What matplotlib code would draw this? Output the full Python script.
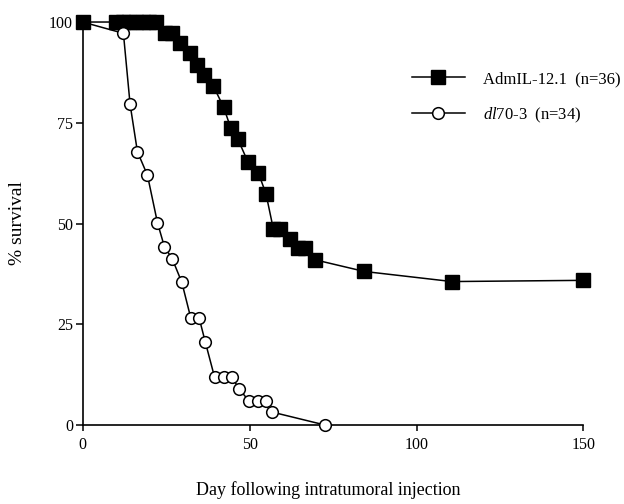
import matplotlib
matplotlib.use("Agg")
import matplotlib.pyplot as plt
from matplotlib.lines import Line2D

plt.rcParams['font.family'] = ['Liberation Serif', 'DejaVu Serif']
plt.rcParams['mathtext.fontset'] = 'custom'
plt.rcParams['mathtext.rm'] = 'Liberation Serif'
plt.rcParams['mathtext.it'] = 'Liberation Serif:italic'

adm_days = [0, 10, 12, 14, 16, 18, 20, 22, 24.7, 26.7, 29.2, 32.2, 34.2, 36.4, 39.1,
            42.2, 44.4, 46.5, 49.5, 52.6, 54.9, 57.1, 59.1, 62.1, 64.6, 66.6, 69.6,
            84.4, 110.6, 150]
adm_surv = [100, 100, 100, 100, 100, 100, 100, 100, 97.2, 97.2, 94.9, 92.2, 89.4, 86.8, 84.2,
            78.9, 73.6, 70.9, 65.3, 62.6, 57.4, 48.7, 48.7, 46.2, 44.0, 44.0, 41.0,
            38.1, 35.6, 35.9]

dl_days = [0, 12.2, 14.2, 16.4, 19.4, 22.4, 24.5, 26.8, 29.7, 32.4, 34.9, 36.7, 39.5,
           42.4, 44.7, 46.9, 49.8, 52.6, 54.9, 56.8, 72.6]
dl_surv = [100, 97.2, 79.6, 67.8, 62.0, 50.2, 44.2, 41.3, 35.4, 26.5, 26.5, 20.7, 11.9,
           11.9, 11.9, 8.9, 6.0, 6.0, 6.0, 3.2, 0]

xticks = [0, 50, 100, 150]
yticks = [0, 25, 50, 75, 100]
adm_label = "AdmIL-12.1  (n=36)"
dl_label = r"$\it{dl}$70-3  (n=34)"

fig = plt.figure(figsize=(6.24, 5.04), dpi=100)
ax = fig.add_axes([0.1325, 0.1567, 0.8025, 0.7996])

ax.plot(adm_days, adm_surv, color='black', lw=1.1, marker='s', ms=9.6,
        mfc='black', mec='black', clip_on=False, zorder=3)
ax.plot(dl_days, dl_surv, color='black', lw=1.1, marker='o', ms=8.4,
        mfc='white', mec='black', mew=1.1, markevery=list(range(1, len(dl_days))),
        clip_on=False, zorder=4)

ax.set_xlim(0, 150)
ax.set_ylim(0, 100)
ax.set_xticks(xticks)
ax.set_yticks(yticks)
ax.tick_params(axis='x', direction='out', length=4.5, width=1.1, labelsize=11.5, pad=4)
ax.tick_params(axis='y', direction='out', length=5, width=1.1, labelsize=11.5, pad=2)
for s in ['top', 'right']:
    ax.spines[s].set_visible(False)
for s in ['left', 'bottom']:
    ax.spines[s].set_linewidth(1.2)

ax.set_xlabel("Day following intratumoral injection", fontsize=13)
ax.xaxis.set_label_coords(0.49, -0.1617)
ax.xaxis.label.set_va('center')
ax.set_ylabel("% survival", fontsize=14)
ax.yaxis.set_label_coords(-0.130, 0.502)
ax.yaxis.label.set_va('center')

h1 = Line2D([], [], color='black', lw=1.1, marker='s', ms=9.6, mfc='black')
h2 = Line2D([], [], color='black', lw=1.1, marker='o', ms=8.4, mfc='white', mew=1.1)
ax.legend([h1, h2], [adm_label, dl_label], loc='upper left',
          bbox_to_anchor=(0.657, 0.878), frameon=False, fontsize=12,
          handlelength=3.2, handletextpad=1.08, labelspacing=1.1,
          borderpad=0, borderaxespad=0)

fig.savefig("out.png", dpi=100)
